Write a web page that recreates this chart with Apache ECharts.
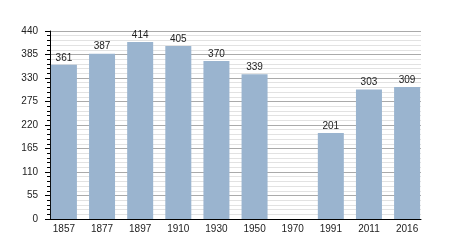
<!DOCTYPE html>
<html><head><meta charset="utf-8">
<script src="https://cdn.jsdelivr.net/npm/echarts@6/dist/echarts.min.js"></script>
<style>html,body{margin:0;padding:0;background:#fff}#c{width:450px;height:250px}</style>
</head><body><div id="c"></div>
<script>
const categories = ['1857','1877','1897','1910','1930','1950','1970','1991','2011','2016'];
const values = [361, 387, 414, 405, 370, 339, null, 201, 303, 309];
const yTicks = [0, 55, 110, 165, 220, 275, 330, 385, 440];

const half = 0.365;
const chart = echarts.init(document.getElementById('c'), null, {renderer:'canvas'});
chart.setOption({
  animation: false,
  grid: {left: 50, right: 29, top: 31, bottom: 31},
  xAxis: {
    type: 'value', min: -half, max: categories.length - 1 + half,
    axisLine: {show: true, onZero: false, lineStyle: {color: '#000', width: 1}},
    axisTick: {show: false},
    splitLine: {show: false},
    axisLabel: {
      customValues: categories.map((c, i) => i),
      formatter: v => categories[Math.round(v)],
      fontFamily: 'Liberation Sans, Arial, sans-serif', fontSize: 10, color: '#222', margin: 5
    }
  },
  yAxis: {
    type: 'value', min: yTicks[0], max: yTicks[yTicks.length - 1], interval: yTicks[1] - yTicks[0],
    axisLine: {show: true, onZero: false, lineStyle: {color: '#000', width: 1}},
    axisTick: {show: true, length: 5, lineStyle: {color: '#000'}},
    minorTick: {show: true, splitNumber: 5, length: 3, lineStyle: {color: '#000'}},
    splitLine: {show: true, lineStyle: {color: '#aaa', width: 1}},
    minorSplitLine: {show: true, lineStyle: {color: '#e2e2e2', width: 1}},
    axisLabel: {
      fontFamily: 'Liberation Sans, Arial, sans-serif', fontSize: 10, color: '#222', margin: 12
    }
  },
  series: [{
    type: 'bar',
    barWidth: 26,
    data: values.map((v, i) => [i, v]),
    itemStyle: {color: '#9ab4cf'},
    label: {show: true, position: 'top', distance: 2,
      fontFamily: 'Liberation Sans, Arial, sans-serif', fontSize: 10, color: '#222',
      formatter: p => p.value[1] == null ? '' : String(p.value[1])}
  }]
});
</script></body></html>
